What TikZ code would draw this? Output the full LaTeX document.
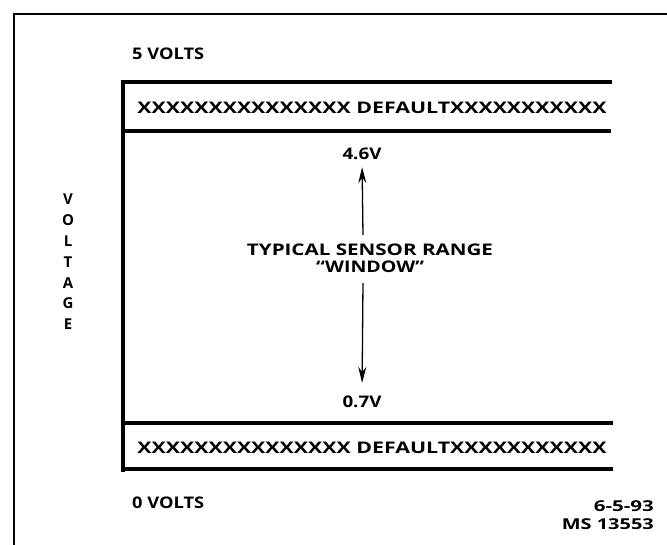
\documentclass[tikz,border=0pt]{standalone}
\usepackage{fontspec}
\setmainfont{Open Sans}
\usetikzlibrary{arrows.meta}
\newcommand\wfit[2]{\resizebox{#1}{\height}{#2}}
\tikzset{
  lbl/.style={font=\bfseries\fontsize{16}{19}\selectfont, inner sep=0pt},
  bar/.style={line width=3.2pt},
  frame/.style={line width=2.8pt},
  rng/.style={line width=1.3pt, -{Stealth[length=16pt,width=8pt]}}
}
\begin{document}
\begin{tikzpicture}[x=1pt,y=-1pt]
\useasboundingbox (0,0) rectangle (667,545);
% outer frame (top and left)
\draw[frame] (14,545) -- (14,14) -- (667,14);
% inner box
\draw[bar] (123,472) -- (123,82) -- (612,82);
\draw[bar] (123,131) -- (611,131);
\draw[bar] (123,423) -- (613,423);
\draw[bar] (123,469) -- (613,469);
% texts
\node[lbl, anchor=west] (five) at (132,54) {\wfit{72pt}{5 VOLTS}};
\node[lbl] (deftop) at (372,108) {\wfit{469pt}{XXXXXXXXXXXXXXX DEFAULTXXXXXXXXXXX}};
\node[lbl] (v46) at (362,154) {\wfit{39pt}{4.6V}};
\node[lbl, align=center] (range) at (370,258) {\wfit{246pt}{TYPICAL SENSOR RANGE}\\[-2pt]\wfit{108pt}{\textquotedblleft WINDOW\textquotedblright}};
\node[lbl] (v07) at (362,402) {\wfit{39pt}{0.7V}};
\node[lbl] (defbot) at (372,448) {\wfit{469pt}{XXXXXXXXXXXXXXX DEFAULTXXXXXXXXXXX}};
\node[lbl, anchor=west] (zero) at (132,503) {\wfit{72pt}{0 VOLTS}};
\node[lbl, align=right, anchor=east, font=\bfseries\fontsize{15}{18}\selectfont] (ms) at (654,515) {\wfit{60pt}{6-5-93}\\\wfit{92pt}{MS 13553}};
\node[lbl, align=center, font=\bfseries\fontsize{15}{20.8}\selectfont] (volt) at (68,262) {V\\O\\L\\T\\A\\G\\E};
% arrows
\coordinate (upbase) at (363,235);
\coordinate (dnbase) at (363,283);
\draw[rng, shorten >=7pt] (upbase) -- (v46.south);
\draw[rng, shorten >=13pt] (dnbase) -- (v07.north);
\end{tikzpicture}
\end{document}
